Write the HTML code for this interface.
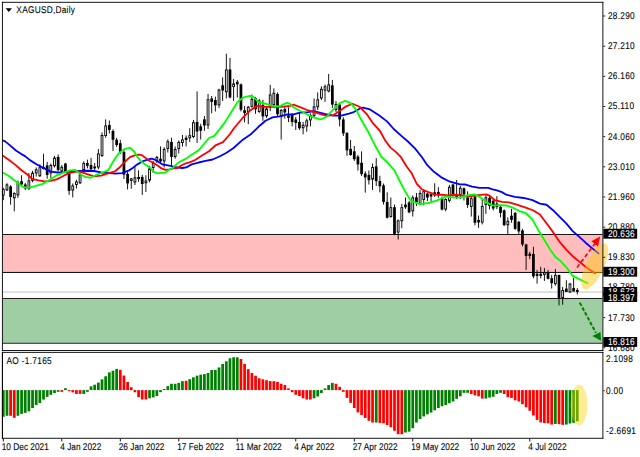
<!DOCTYPE html><html><head><meta charset="utf-8"><style>html,body{margin:0;padding:0;background:#fff;overflow:hidden}svg{display:block}text{font-family:"Liberation Sans",sans-serif;text-rendering:geometricPrecision}</style></head><body>
<svg width="640" height="457" viewBox="0 0 700 500">
<rect x="0" y="0" width="700" height="500" fill="#fff"/>
<rect x="3" y="257" width="656" height="40.5" fill="#FFBDBD"/>
<rect x="3" y="327" width="656" height="48" fill="#9ECEA2"/>
<rect x="3" y="256" width="656" height="1" fill="#000"/>
<rect x="3" y="326" width="656" height="1" fill="#000"/>
<rect x="3" y="375" width="656" height="1" fill="#000"/>
<rect x="3" y="297.50" width="656" height="1.094" fill="#000"/>
<rect x="3" y="319" width="656" height="1" fill="#BDBDBD"/>
<rect x="3" y="205.4" width="1" height="13.6" fill="#000"/>
<rect x="2.5" y="207.2" width="2" height="6.2" fill="#fff" stroke="#000" stroke-width="1"/>
<rect x="7" y="200.4" width="1" height="8.5" fill="#000"/>
<rect x="6.5" y="202.3" width="2" height="5.5" fill="#fff" stroke="#000" stroke-width="1"/>
<rect x="11" y="202.6" width="1" height="21.4" fill="#000"/>
<rect x="10" y="204.0" width="3" height="11.5" fill="#000"/>
<rect x="15" y="210.4" width="1" height="20.8" fill="#000"/>
<rect x="14.5" y="211.6" width="2" height="4.8" fill="#fff" stroke="#000" stroke-width="1"/>
<rect x="19" y="197.4" width="1" height="19.1" fill="#000"/>
<rect x="18.5" y="199.9" width="2" height="13.4" fill="#fff" stroke="#000" stroke-width="1"/>
<rect x="23" y="191.7" width="1" height="10.8" fill="#000"/>
<rect x="22" y="198.2" width="3" height="3.6" fill="#000"/>
<rect x="27" y="200.2" width="1" height="7.7" fill="#000"/>
<rect x="26" y="201.8" width="3" height="4.3" fill="#000"/>
<rect x="31" y="189.2" width="1" height="18.6" fill="#000"/>
<rect x="30.5" y="197.9" width="2" height="8.3" fill="#fff" stroke="#000" stroke-width="1"/>
<rect x="35" y="186.9" width="1" height="12.5" fill="#000"/>
<rect x="34.5" y="189.4" width="2" height="8.1" fill="#fff" stroke="#000" stroke-width="1"/>
<rect x="39" y="183.2" width="1" height="10.0" fill="#000"/>
<rect x="38.5" y="185.8" width="2" height="3.4" fill="#fff" stroke="#000" stroke-width="1"/>
<rect x="43" y="179.7" width="1" height="13.9" fill="#000"/>
<rect x="42.5" y="183.5" width="2" height="8.8" fill="#fff" stroke="#000" stroke-width="1"/>
<rect x="47" y="168.2" width="1" height="17.2" fill="#000"/>
<rect x="46" y="182.7" width="3" height="2.2" fill="#000"/>
<rect x="51" y="177.1" width="1" height="18.4" fill="#000"/>
<rect x="50" y="181.0" width="3" height="10.4" fill="#000"/>
<rect x="55" y="178.9" width="1" height="15.8" fill="#000"/>
<rect x="54.5" y="181.0" width="2" height="8.2" fill="#fff" stroke="#000" stroke-width="1"/>
<rect x="59" y="170.6" width="1" height="12.6" fill="#000"/>
<rect x="58.5" y="173.0" width="2" height="8.3" fill="#fff" stroke="#000" stroke-width="1"/>
<rect x="63" y="168.9" width="1" height="18.7" fill="#000"/>
<rect x="62" y="171.7" width="3" height="14.4" fill="#000"/>
<rect x="67" y="180.5" width="1" height="8.5" fill="#000"/>
<rect x="66.5" y="183.0" width="2" height="4.0" fill="#fff" stroke="#000" stroke-width="1"/>
<rect x="71" y="178.3" width="1" height="10.9" fill="#000"/>
<rect x="70" y="178.9" width="3" height="9.3" fill="#000"/>
<rect x="75" y="189.0" width="1" height="24.3" fill="#000"/>
<rect x="74" y="190.3" width="3" height="18.6" fill="#000"/>
<rect x="79" y="200.7" width="1" height="15.3" fill="#000"/>
<rect x="78.5" y="203.4" width="2" height="4.5" fill="#fff" stroke="#000" stroke-width="1"/>
<rect x="83" y="196.7" width="1" height="9.5" fill="#000"/>
<rect x="82.5" y="199.0" width="2" height="2.8" fill="#fff" stroke="#000" stroke-width="1"/>
<rect x="87" y="188.0" width="1" height="13.3" fill="#000"/>
<rect x="86.5" y="191.4" width="2" height="8.6" fill="#fff" stroke="#000" stroke-width="1"/>
<rect x="91" y="176.5" width="1" height="11.5" fill="#000"/>
<rect x="90.5" y="178.8" width="2" height="6.7" fill="#fff" stroke="#000" stroke-width="1"/>
<rect x="95" y="174.6" width="1" height="9.6" fill="#000"/>
<rect x="94" y="178.3" width="3" height="3.1" fill="#000"/>
<rect x="99" y="172.7" width="1" height="14.3" fill="#000"/>
<rect x="98" y="180.5" width="3" height="4.7" fill="#000"/>
<rect x="103" y="178.3" width="1" height="7.7" fill="#000"/>
<rect x="102" y="182.2" width="3" height="2.0" fill="#000"/>
<rect x="107" y="163.0" width="1" height="22.2" fill="#000"/>
<rect x="106.5" y="168.4" width="2" height="14.3" fill="#fff" stroke="#000" stroke-width="1"/>
<rect x="111" y="144.9" width="1" height="26.8" fill="#000"/>
<rect x="110.5" y="148.2" width="2" height="22.0" fill="#fff" stroke="#000" stroke-width="1"/>
<rect x="115" y="130.6" width="1" height="20.1" fill="#000"/>
<rect x="114.5" y="137.8" width="2" height="10.5" fill="#fff" stroke="#000" stroke-width="1"/>
<rect x="119" y="131.8" width="1" height="14.3" fill="#000"/>
<rect x="118" y="136.7" width="3" height="5.5" fill="#000"/>
<rect x="123" y="141.4" width="1" height="23.7" fill="#000"/>
<rect x="122" y="143.3" width="3" height="9.6" fill="#000"/>
<rect x="127" y="150.9" width="1" height="9.8" fill="#000"/>
<rect x="126" y="152.9" width="3" height="5.7" fill="#000"/>
<rect x="131" y="152.9" width="1" height="15.3" fill="#000"/>
<rect x="130" y="156.7" width="3" height="9.5" fill="#000"/>
<rect x="135" y="164.4" width="1" height="31.4" fill="#000"/>
<rect x="134" y="166.2" width="3" height="24.9" fill="#000"/>
<rect x="139" y="188.1" width="1" height="19.2" fill="#000"/>
<rect x="138" y="190.3" width="3" height="10.4" fill="#000"/>
<rect x="143" y="194.7" width="1" height="11.8" fill="#000"/>
<rect x="142.5" y="195.7" width="2" height="1.7" fill="#fff" stroke="#000" stroke-width="1"/>
<rect x="147" y="181.6" width="1" height="20.8" fill="#000"/>
<rect x="146.5" y="194.5" width="2" height="4.7" fill="#fff" stroke="#000" stroke-width="1"/>
<rect x="151" y="186.4" width="1" height="12.5" fill="#000"/>
<rect x="150" y="193.6" width="3" height="2.2" fill="#000"/>
<rect x="155" y="191.2" width="1" height="22.1" fill="#000"/>
<rect x="154" y="193.6" width="3" height="7.7" fill="#000"/>
<rect x="159" y="191.8" width="1" height="18.2" fill="#000"/>
<rect x="158.5" y="198.0" width="2" height="2.0" fill="#fff" stroke="#000" stroke-width="1"/>
<rect x="163" y="181.3" width="1" height="18.2" fill="#000"/>
<rect x="162.5" y="184.7" width="2" height="12.3" fill="#fff" stroke="#000" stroke-width="1"/>
<rect x="167" y="176.1" width="1" height="13.1" fill="#000"/>
<rect x="166.5" y="178.8" width="2" height="4.5" fill="#fff" stroke="#000" stroke-width="1"/>
<rect x="171" y="170.6" width="1" height="7.7" fill="#000"/>
<rect x="170.5" y="172.2" width="2" height="3.8" fill="#fff" stroke="#000" stroke-width="1"/>
<rect x="175" y="160.2" width="1" height="18.0" fill="#000"/>
<rect x="174" y="173.7" width="3" height="2.8" fill="#000"/>
<rect x="179" y="161.2" width="1" height="22.0" fill="#000"/>
<rect x="178.5" y="163.5" width="2" height="12.6" fill="#fff" stroke="#000" stroke-width="1"/>
<rect x="183" y="152.6" width="1" height="14.3" fill="#000"/>
<rect x="182.5" y="155.0" width="2" height="7.4" fill="#fff" stroke="#000" stroke-width="1"/>
<rect x="187" y="150.7" width="1" height="30.6" fill="#000"/>
<rect x="186" y="155.3" width="3" height="16.4" fill="#000"/>
<rect x="191" y="160.2" width="1" height="13.5" fill="#000"/>
<rect x="190.5" y="163.5" width="2" height="7.8" fill="#fff" stroke="#000" stroke-width="1"/>
<rect x="195" y="153.6" width="1" height="14.3" fill="#000"/>
<rect x="194.5" y="155.8" width="2" height="6.7" fill="#fff" stroke="#000" stroke-width="1"/>
<rect x="199" y="147.7" width="1" height="12.6" fill="#000"/>
<rect x="198.5" y="153.1" width="2" height="2.8" fill="#fff" stroke="#000" stroke-width="1"/>
<rect x="203" y="148.2" width="1" height="12.0" fill="#000"/>
<rect x="202" y="150.7" width="3" height="2.4" fill="#000"/>
<rect x="207" y="140.3" width="1" height="15.0" fill="#000"/>
<rect x="206.5" y="148.4" width="2" height="2.4" fill="#fff" stroke="#000" stroke-width="1"/>
<rect x="211" y="131.2" width="1" height="20.0" fill="#000"/>
<rect x="210.5" y="134.2" width="2" height="15.2" fill="#fff" stroke="#000" stroke-width="1"/>
<rect x="215" y="100.0" width="1" height="56.4" fill="#000"/>
<rect x="214" y="133.4" width="3" height="10.5" fill="#000"/>
<rect x="219" y="135.4" width="1" height="17.2" fill="#000"/>
<rect x="218" y="138.2" width="3" height="4.8" fill="#000"/>
<rect x="223" y="126.9" width="1" height="16.2" fill="#000"/>
<rect x="222" y="130.6" width="3" height="6.7" fill="#000"/>
<rect x="227" y="102.8" width="1" height="38.3" fill="#000"/>
<rect x="226.5" y="109.1" width="2" height="27.7" fill="#fff" stroke="#000" stroke-width="1"/>
<rect x="231" y="105.0" width="1" height="18.9" fill="#000"/>
<rect x="230" y="107.7" width="3" height="3.8" fill="#000"/>
<rect x="235" y="105.7" width="1" height="16.3" fill="#000"/>
<rect x="234" y="109.4" width="3" height="5.9" fill="#000"/>
<rect x="239" y="97.1" width="1" height="21.0" fill="#000"/>
<rect x="238.5" y="98.5" width="2" height="16.3" fill="#fff" stroke="#000" stroke-width="1"/>
<rect x="243" y="84.7" width="1" height="25.8" fill="#000"/>
<rect x="242" y="93.3" width="3" height="5.7" fill="#000"/>
<rect x="247" y="58.8" width="1" height="48.8" fill="#000"/>
<rect x="246.5" y="76.5" width="2" height="23.9" fill="#fff" stroke="#000" stroke-width="1"/>
<rect x="251" y="63.4" width="1" height="44.2" fill="#000"/>
<rect x="250" y="76.0" width="3" height="30.6" fill="#000"/>
<rect x="255" y="86.4" width="1" height="24.1" fill="#000"/>
<rect x="254.5" y="91.8" width="2" height="2.8" fill="#fff" stroke="#000" stroke-width="1"/>
<rect x="259" y="87.5" width="1" height="19.1" fill="#000"/>
<rect x="258" y="89.5" width="3" height="2.8" fill="#000"/>
<rect x="263" y="91.3" width="1" height="30.6" fill="#000"/>
<rect x="262" y="92.3" width="3" height="27.8" fill="#000"/>
<rect x="267" y="115.9" width="1" height="18.0" fill="#000"/>
<rect x="266" y="120.6" width="3" height="3.0" fill="#000"/>
<rect x="271" y="115.9" width="1" height="20.0" fill="#000"/>
<rect x="270.5" y="117.3" width="2" height="4.7" fill="#fff" stroke="#000" stroke-width="1"/>
<rect x="275" y="103.4" width="1" height="14.3" fill="#000"/>
<rect x="274.5" y="108.7" width="2" height="7.6" fill="#fff" stroke="#000" stroke-width="1"/>
<rect x="279" y="106.1" width="1" height="18.4" fill="#000"/>
<rect x="278" y="107.2" width="3" height="12.5" fill="#000"/>
<rect x="283" y="108.2" width="1" height="15.3" fill="#000"/>
<rect x="282.5" y="110.5" width="2" height="11.5" fill="#fff" stroke="#000" stroke-width="1"/>
<rect x="287" y="109.2" width="1" height="23.0" fill="#000"/>
<rect x="286" y="114.8" width="3" height="12.5" fill="#000"/>
<rect x="291" y="117.0" width="1" height="12.0" fill="#000"/>
<rect x="290.5" y="119.2" width="2" height="7.6" fill="#fff" stroke="#000" stroke-width="1"/>
<rect x="295" y="92.9" width="1" height="28.7" fill="#000"/>
<rect x="294.5" y="103.9" width="2" height="13.3" fill="#fff" stroke="#000" stroke-width="1"/>
<rect x="299" y="96.7" width="1" height="21.0" fill="#000"/>
<rect x="298.5" y="102.0" width="2" height="12.3" fill="#fff" stroke="#000" stroke-width="1"/>
<rect x="303" y="101.1" width="1" height="25.8" fill="#000"/>
<rect x="302" y="102.8" width="3" height="22.2" fill="#000"/>
<rect x="307" y="119.2" width="1" height="33.5" fill="#000"/>
<rect x="306.5" y="120.8" width="2" height="6.7" fill="#fff" stroke="#000" stroke-width="1"/>
<rect x="311" y="117.4" width="1" height="12.4" fill="#000"/>
<rect x="310" y="119.2" width="3" height="3.8" fill="#000"/>
<rect x="315" y="117.4" width="1" height="16.1" fill="#000"/>
<rect x="314" y="126.3" width="3" height="2.7" fill="#000"/>
<rect x="319" y="124.0" width="1" height="14.3" fill="#000"/>
<rect x="318" y="125.8" width="3" height="7.7" fill="#000"/>
<rect x="323" y="128.0" width="1" height="14.2" fill="#000"/>
<rect x="322" y="130.7" width="3" height="3.8" fill="#000"/>
<rect x="327" y="123.0" width="1" height="19.1" fill="#000"/>
<rect x="326" y="133.4" width="3" height="6.9" fill="#000"/>
<rect x="331" y="133.4" width="1" height="13.6" fill="#000"/>
<rect x="330.5" y="137.0" width="2" height="2.8" fill="#fff" stroke="#000" stroke-width="1"/>
<rect x="335" y="129.7" width="1" height="14.4" fill="#000"/>
<rect x="334.5" y="132.2" width="2" height="5.7" fill="#fff" stroke="#000" stroke-width="1"/>
<rect x="339" y="124.0" width="1" height="14.3" fill="#000"/>
<rect x="338.5" y="126.3" width="2" height="4.9" fill="#fff" stroke="#000" stroke-width="1"/>
<rect x="343" y="107.7" width="1" height="21.1" fill="#000"/>
<rect x="342.5" y="116.9" width="2" height="9.5" fill="#fff" stroke="#000" stroke-width="1"/>
<rect x="347" y="101.1" width="1" height="19.2" fill="#000"/>
<rect x="346.5" y="109.2" width="2" height="7.6" fill="#fff" stroke="#000" stroke-width="1"/>
<rect x="351" y="94.4" width="1" height="15.0" fill="#000"/>
<rect x="350.5" y="97.7" width="2" height="9.5" fill="#fff" stroke="#000" stroke-width="1"/>
<rect x="355" y="92.4" width="1" height="19.1" fill="#000"/>
<rect x="354.5" y="94.9" width="2" height="3.7" fill="#fff" stroke="#000" stroke-width="1"/>
<rect x="359" y="80.9" width="1" height="20.1" fill="#000"/>
<rect x="358.5" y="92.9" width="2" height="6.7" fill="#fff" stroke="#000" stroke-width="1"/>
<rect x="363" y="87.5" width="1" height="30.6" fill="#000"/>
<rect x="362" y="93.4" width="3" height="21.0" fill="#000"/>
<rect x="367" y="110.5" width="1" height="12.0" fill="#000"/>
<rect x="366.5" y="114.2" width="2" height="5.6" fill="#fff" stroke="#000" stroke-width="1"/>
<rect x="371" y="113.5" width="1" height="24.8" fill="#000"/>
<rect x="370" y="114.4" width="3" height="16.3" fill="#000"/>
<rect x="375" y="128.3" width="1" height="20.5" fill="#000"/>
<rect x="374" y="130.7" width="3" height="15.3" fill="#000"/>
<rect x="379" y="144.4" width="1" height="26.0" fill="#000"/>
<rect x="378" y="145.5" width="3" height="19.1" fill="#000"/>
<rect x="383" y="153.1" width="1" height="17.3" fill="#000"/>
<rect x="382" y="162.8" width="3" height="6.8" fill="#000"/>
<rect x="387" y="159.7" width="1" height="16.4" fill="#000"/>
<rect x="386" y="165.6" width="3" height="8.6" fill="#000"/>
<rect x="391" y="169.5" width="1" height="17.1" fill="#000"/>
<rect x="390" y="171.3" width="3" height="8.6" fill="#000"/>
<rect x="395" y="165.6" width="1" height="26.9" fill="#000"/>
<rect x="394" y="178.1" width="3" height="12.4" fill="#000"/>
<rect x="399" y="187.5" width="1" height="23.3" fill="#000"/>
<rect x="398" y="189.8" width="3" height="4.3" fill="#000"/>
<rect x="403" y="186.6" width="1" height="15.3" fill="#000"/>
<rect x="402" y="191.4" width="3" height="5.8" fill="#000"/>
<rect x="407" y="179.0" width="1" height="28.8" fill="#000"/>
<rect x="406.5" y="183.2" width="2" height="12.8" fill="#fff" stroke="#000" stroke-width="1"/>
<rect x="411" y="173.0" width="1" height="30.5" fill="#000"/>
<rect x="410" y="182.0" width="3" height="16.2" fill="#000"/>
<rect x="415" y="192.3" width="1" height="18.2" fill="#000"/>
<rect x="414" y="198.0" width="3" height="5.8" fill="#000"/>
<rect x="419" y="200.8" width="1" height="23.0" fill="#000"/>
<rect x="418" y="202.8" width="3" height="18.2" fill="#000"/>
<rect x="423" y="210.4" width="1" height="28.7" fill="#000"/>
<rect x="422" y="220.9" width="3" height="17.3" fill="#000"/>
<rect x="427" y="216.1" width="1" height="22.1" fill="#000"/>
<rect x="426.5" y="227.2" width="2" height="9.6" fill="#fff" stroke="#000" stroke-width="1"/>
<rect x="431" y="223.8" width="1" height="33.6" fill="#000"/>
<rect x="430" y="226.7" width="3" height="29.6" fill="#000"/>
<rect x="435" y="240.1" width="1" height="22.0" fill="#000"/>
<rect x="434.5" y="241.6" width="2" height="12.3" fill="#fff" stroke="#000" stroke-width="1"/>
<rect x="439" y="222.9" width="1" height="26.8" fill="#000"/>
<rect x="438.5" y="227.2" width="2" height="14.3" fill="#fff" stroke="#000" stroke-width="1"/>
<rect x="443" y="216.1" width="1" height="12.5" fill="#000"/>
<rect x="442" y="223.8" width="3" height="3.0" fill="#000"/>
<rect x="447" y="219.8" width="1" height="13.6" fill="#000"/>
<rect x="446" y="221.5" width="3" height="10.8" fill="#000"/>
<rect x="451" y="213.9" width="1" height="23.0" fill="#000"/>
<rect x="450.5" y="216.4" width="2" height="14.3" fill="#fff" stroke="#000" stroke-width="1"/>
<rect x="455" y="211.1" width="1" height="14.2" fill="#000"/>
<rect x="454" y="215.9" width="3" height="5.7" fill="#000"/>
<rect x="459" y="208.2" width="1" height="16.3" fill="#000"/>
<rect x="458.5" y="211.6" width="2" height="11.5" fill="#fff" stroke="#000" stroke-width="1"/>
<rect x="463" y="207.3" width="1" height="17.3" fill="#000"/>
<rect x="462.5" y="209.7" width="2" height="8.5" fill="#fff" stroke="#000" stroke-width="1"/>
<rect x="467" y="211.1" width="1" height="8.8" fill="#000"/>
<rect x="466" y="211.8" width="3" height="4.3" fill="#000"/>
<rect x="471" y="211.1" width="1" height="8.8" fill="#000"/>
<rect x="470" y="212.6" width="3" height="2.3" fill="#000"/>
<rect x="475" y="200.5" width="1" height="15.0" fill="#000"/>
<rect x="474" y="210.3" width="3" height="3.5" fill="#000"/>
<rect x="479" y="204.8" width="1" height="11.5" fill="#000"/>
<rect x="478" y="210.0" width="3" height="3.8" fill="#000"/>
<rect x="483" y="214.9" width="1" height="15.3" fill="#000"/>
<rect x="482" y="216.6" width="3" height="12.7" fill="#000"/>
<rect x="487" y="216.9" width="1" height="14.3" fill="#000"/>
<rect x="486.5" y="218.2" width="2" height="10.6" fill="#fff" stroke="#000" stroke-width="1"/>
<rect x="491" y="202.3" width="1" height="19.2" fill="#000"/>
<rect x="490.5" y="204.9" width="2" height="14.3" fill="#fff" stroke="#000" stroke-width="1"/>
<rect x="495" y="201.0" width="1" height="14.4" fill="#000"/>
<rect x="494" y="201.9" width="3" height="11.0" fill="#000"/>
<rect x="499" y="196.9" width="1" height="20.8" fill="#000"/>
<rect x="498" y="213.9" width="3" height="2.0" fill="#000"/>
<rect x="503" y="203.4" width="1" height="14.3" fill="#000"/>
<rect x="502.5" y="205.9" width="2" height="6.7" fill="#fff" stroke="#000" stroke-width="1"/>
<rect x="507" y="205.1" width="1" height="14.3" fill="#000"/>
<rect x="506" y="206.0" width="3" height="6.7" fill="#000"/>
<rect x="511" y="209.3" width="1" height="18.2" fill="#000"/>
<rect x="510" y="216.0" width="3" height="8.2" fill="#000"/>
<rect x="515" y="214.9" width="1" height="22.0" fill="#000"/>
<rect x="514.5" y="217.4" width="2" height="8.5" fill="#fff" stroke="#000" stroke-width="1"/>
<rect x="519" y="213.9" width="1" height="32.6" fill="#000"/>
<rect x="518" y="214.9" width="3" height="28.8" fill="#000"/>
<rect x="523" y="235.8" width="1" height="13.5" fill="#000"/>
<rect x="522.5" y="241.1" width="2" height="1.8" fill="#fff" stroke="#000" stroke-width="1"/>
<rect x="527" y="217.7" width="1" height="27.8" fill="#000"/>
<rect x="526.5" y="225.8" width="2" height="17.2" fill="#fff" stroke="#000" stroke-width="1"/>
<rect x="531" y="213.8" width="1" height="20.2" fill="#000"/>
<rect x="530.5" y="216.3" width="2" height="7.4" fill="#fff" stroke="#000" stroke-width="1"/>
<rect x="535" y="214.8" width="1" height="14.3" fill="#000"/>
<rect x="534" y="216.6" width="3" height="8.8" fill="#000"/>
<rect x="539" y="217.7" width="1" height="12.5" fill="#000"/>
<rect x="538" y="219.6" width="3" height="8.5" fill="#000"/>
<rect x="543" y="214.6" width="1" height="14.3" fill="#000"/>
<rect x="542" y="222.7" width="3" height="3.7" fill="#000"/>
<rect x="547" y="224.2" width="1" height="13.6" fill="#000"/>
<rect x="546" y="226.3" width="3" height="6.7" fill="#000"/>
<rect x="551" y="229.1" width="1" height="18.2" fill="#000"/>
<rect x="550" y="230.1" width="3" height="16.3" fill="#000"/>
<rect x="555" y="237.8" width="1" height="19.2" fill="#000"/>
<rect x="554.5" y="242.1" width="2" height="3.8" fill="#fff" stroke="#000" stroke-width="1"/>
<rect x="559" y="228.4" width="1" height="15.3" fill="#000"/>
<rect x="558" y="236.0" width="3" height="4.6" fill="#000"/>
<rect x="563" y="231.9" width="1" height="19.7" fill="#000"/>
<rect x="562" y="233.0" width="3" height="17.4" fill="#000"/>
<rect x="567" y="241.7" width="1" height="14.2" fill="#000"/>
<rect x="566" y="242.7" width="3" height="10.5" fill="#000"/>
<rect x="571" y="250.4" width="1" height="19.1" fill="#000"/>
<rect x="570" y="252.2" width="3" height="15.3" fill="#000"/>
<rect x="575" y="266.7" width="1" height="28.7" fill="#000"/>
<rect x="574" y="267.5" width="3" height="12.5" fill="#000"/>
<rect x="579" y="275.4" width="1" height="8.1" fill="#000"/>
<rect x="578" y="277.6" width="3" height="2.4" fill="#000"/>
<rect x="583" y="270.0" width="1" height="34.5" fill="#000"/>
<rect x="582" y="277.8" width="3" height="24.6" fill="#000"/>
<rect x="587" y="295.2" width="1" height="15.1" fill="#000"/>
<rect x="586" y="299.5" width="3" height="2.4" fill="#000"/>
<rect x="591" y="291.9" width="1" height="12.6" fill="#000"/>
<rect x="590" y="299.5" width="3" height="2.4" fill="#000"/>
<rect x="595" y="293.1" width="1" height="14.2" fill="#000"/>
<rect x="594.5" y="298.4" width="2" height="1.8" fill="#fff" stroke="#000" stroke-width="1"/>
<rect x="599" y="295.3" width="1" height="10.4" fill="#000"/>
<rect x="598" y="298.5" width="3" height="6.5" fill="#000"/>
<rect x="603" y="300.7" width="1" height="15.0" fill="#000"/>
<rect x="602" y="304.4" width="3" height="5.4" fill="#000"/>
<rect x="607" y="294.2" width="1" height="18.3" fill="#000"/>
<rect x="606.5" y="301.2" width="2" height="9.2" fill="#fff" stroke="#000" stroke-width="1"/>
<rect x="611" y="300.7" width="1" height="33.4" fill="#000"/>
<rect x="610" y="300.7" width="3" height="25.3" fill="#000"/>
<rect x="615" y="313.9" width="1" height="19.6" fill="#000"/>
<rect x="614.5" y="317.7" width="2" height="7.8" fill="#fff" stroke="#000" stroke-width="1"/>
<rect x="619" y="306.6" width="1" height="12.8" fill="#000"/>
<rect x="618" y="315.7" width="3" height="3.7" fill="#000"/>
<rect x="623" y="309.5" width="1" height="10.9" fill="#000"/>
<rect x="622.5" y="310.8" width="2" height="8.7" fill="#fff" stroke="#000" stroke-width="1"/>
<rect x="627" y="303.8" width="1" height="15.1" fill="#000"/>
<rect x="626" y="315.2" width="3" height="3.7" fill="#000"/>
<rect x="631" y="315.2" width="1" height="7.0" fill="#000"/>
<rect x="630" y="317.2" width="3" height="2.2" fill="#000"/>
<polyline points="2.8,153.7 5.5,154.7 9.6,158.0 17.3,164.7 24.9,169.5 27.3,170.8 32.6,175.2 40.2,180.0 47.9,183.9 55.6,187.7 63.2,188.7 70.9,188.3 78.5,187.7 87.5,187.1 95.2,186.8 102.8,187.1 110.5,188.7 118.1,189.2 125.8,190.0 133.4,189.4 141.1,186.4 145.5,183.5 148.6,180.9 153.0,178.2 157.3,175.9 161.5,174.6 165.9,173.5 169.1,174.6 173.5,177.3 177.7,180.0 182.1,180.6 186.4,181.6 190.6,182.7 195.0,183.4 199.3,183.8 203.7,183.2 209.5,179.8 217.1,177.8 224.8,176.0 232.4,174.5 240.1,171.2 247.7,167.1 255.4,161.9 265.6,152.8 275.1,146.3 282.7,138.7 290.4,132.1 298.0,128.4 305.7,127.4 313.4,125.3 321.0,125.1 328.1,123.3 329.5,123.2 337.2,122.6 342.9,121.5 347.6,122.8 356.1,124.9 364.7,126.5 373.3,126.5 381.7,124.2 387.0,122.6 393.8,118.7 397.0,117.8 404.7,119.7 414.5,126.1 423.3,132.8 430.9,141.4 440.6,150.0 446.2,154.8 453.9,162.4 461.6,172.0 467.4,180.7 475.0,188.3 482.7,194.0 492.2,198.8 503.1,201.7 509.3,201.9 516.5,204.2 524.5,205.6 534.0,205.6 538.8,207.2 543.6,208.4 549.1,210.2 553.8,213.0 563.3,215.4 572.9,216.6 582.4,219.0 590.6,222.7 597.8,224.0 605.0,230.0 612.2,237.2 619.4,244.3 626.5,252.8 633.7,259.2 640.9,265.8 648.0,271.8 655.3,277.8" fill="none" stroke="#0000FF" stroke-width="2" stroke-linejoin="round"/>
<polyline points="2.8,170.1 10.1,175.3 16.7,180.4 23.4,186.3 30.2,191.2 35.1,195.8 41.9,197.4 48.6,198.4 55.2,197.9 61.9,196.2 67.0,193.7 74.7,189.7 82.4,187.7 87.5,187.7 95.2,190.6 102.8,192.9 110.5,192.2 118.1,189.7 125.8,187.4 131.6,182.4 137.3,176.2 142.2,171.9 146.5,170.3 150.8,169.2 155.1,169.8 159.5,173.0 163.7,176.2 168.0,178.4 172.4,181.0 176.6,184.3 181.0,185.9 185.3,185.4 189.5,184.3 193.9,183.8 198.2,181.1 202.6,178.9 207.8,177.3 213.3,175.1 220.9,170.2 228.6,165.5 236.2,158.7 243.9,155.6 251.6,146.6 255.9,140.3 265.6,128.8 273.2,121.2 280.9,115.8 288.5,116.9 298.0,116.9 307.7,116.9 317.2,115.8 321.0,114.4 328.1,117.2 335.2,120.1 342.9,122.4 350.0,124.7 357.2,126.7 364.3,126.0 371.5,121.5 377.9,116.7 385.5,113.5 393.2,116.8 400.9,124.5 408.5,135.6 415.6,143.3 421.4,153.8 427.1,161.5 432.9,166.2 438.6,172.0 444.4,181.6 450.1,189.2 455.9,201.2 461.6,207.3 468.6,210.2 475.8,212.6 483.0,213.1 490.1,213.8 497.3,213.1 504.5,213.8 511.7,215.1 518.9,213.9 520.4,213.7 531.9,212.7 535.9,214.4 541.4,219.1 549.1,220.8 556.7,221.4 564.4,223.6 575.9,227.4 583.5,230.3 590.6,234.7 597.8,244.3 605.0,254.0 612.2,264.7 619.4,273.1 626.5,280.3 633.7,286.2 640.9,292.2 648.0,297.1 651.7,299.5" fill="none" stroke="#FF0000" stroke-width="2" stroke-linejoin="round"/>
<polyline points="2.8,188.7 9.6,192.5 17.3,198.5 24.9,204.5 30.6,205.6 38.3,203.7 45.9,201.4 53.6,197.1 61.2,192.2 68.9,189.2 76.6,186.5 82.4,185.8 87.5,190.6 93.3,193.5 99.0,194.5 104.8,191.5 110.5,189.3 118.1,186.5 123.9,176.4 129.6,167.9 135.4,163.4 142.1,161.5 146.5,165.5 150.8,172.5 155.1,177.3 159.5,180.6 163.7,183.2 168.0,188.1 172.4,189.7 176.6,189.1 181.0,188.7 185.3,185.4 189.5,183.2 193.9,178.9 198.2,176.2 202.6,174.1 209.5,169.3 217.1,164.5 222.9,157.8 228.6,151.0 234.4,148.6 240.1,141.5 245.9,133.9 250.3,126.9 259.8,111.6 265.6,106.9 273.2,104.9 277.0,105.9 282.7,111.6 290.4,113.5 298.0,115.8 305.7,116.4 313.4,112.5 317.2,113.5 321.0,117.4 328.1,121.2 335.2,124.7 342.9,128.5 350.0,130.5 353.5,129.7 357.2,127.8 364.3,120.0 371.5,112.8 377.6,110.4 383.5,112.8 389.5,120.0 395.5,131.9 402.6,143.9 409.8,158.3 417.0,171.2 424.2,178.3 431.4,186.5 437.5,198.6 442.3,207.8 449.4,219.8 459.0,223.3 468.6,222.1 478.2,219.3 487.8,215.0 497.3,216.2 504.5,216.3 511.7,213.6 518.9,212.7 525.0,215.5 532.2,221.4 539.3,224.9 546.5,224.4 553.8,224.8 560.9,227.2 568.1,230.9 575.3,233.3 582.4,240.1 588.4,251.0 594.5,260.9 601.6,272.8 607.6,281.2 612.5,285.0 619.4,292.2 626.5,301.9 633.7,305.4 643.2,310.2" fill="none" stroke="#00FF00" stroke-width="2" stroke-linejoin="round"/>
<line x1="651.3" y1="265.8" x2="629.3" y2="295.3" stroke="#FF0000" stroke-width="1.8" stroke-dasharray="4.5,2.8"/>
<polygon points="656.5,258.8 647.0,263.9 654.2,269.6" fill="#FF0000"/>
<line x1="634.2" y1="331.1" x2="651.9" y2="364.2" stroke="#008000" stroke-width="2.2" stroke-dasharray="4,2"/>
<polygon points="657.5,372.9 647.9,367.5 656.9,363.3" fill="#008000"/>
<ellipse cx="650.7" cy="291.3" rx="9.8" ry="27.6" transform="rotate(25 650.7 291.3)" fill="rgba(251,197,10,0.47)"/>
<rect x="2" y="2" width="658" height="1" fill="#000"/>
<rect x="2" y="383" width="658" height="1" fill="#000"/>
<rect x="2" y="2" width="1" height="382" fill="#000"/>
<rect x="659" y="2" width="1" height="382" fill="#000"/>
<polygon points="6,9 13,9 9.5,13" fill="#000"/>
<g transform="translate(17.80,14.40) scale(0.845,1)"><text x="0" y="0" font-size="10.75" fill="#000" stroke="#000" stroke-width="0.1" letter-spacing="0.32">XAGUSD,Daily</text></g>
<rect x="660" y="17" width="2" height="1" fill="#000"/>
<g transform="translate(665.00,20.80) scale(0.845,1)"><text x="0" y="0" font-size="10.75" fill="#000" stroke="#000" stroke-width="0.1" letter-spacing="0.36">28.290</text></g>
<rect x="660" y="50" width="2" height="1" fill="#000"/>
<g transform="translate(665.00,53.80) scale(0.845,1)"><text x="0" y="0" font-size="10.75" fill="#000" stroke="#000" stroke-width="0.1" letter-spacing="0.36">27.210</text></g>
<rect x="660" y="83" width="2" height="1" fill="#000"/>
<g transform="translate(665.00,86.80) scale(0.845,1)"><text x="0" y="0" font-size="10.75" fill="#000" stroke="#000" stroke-width="0.1" letter-spacing="0.36">26.160</text></g>
<rect x="660" y="116" width="2" height="1" fill="#000"/>
<g transform="translate(665.00,119.80) scale(0.845,1)"><text x="0" y="0" font-size="10.75" fill="#000" stroke="#000" stroke-width="0.1" letter-spacing="0.36">25.110</text></g>
<rect x="660" y="149" width="2" height="1" fill="#000"/>
<g transform="translate(665.00,152.80) scale(0.845,1)"><text x="0" y="0" font-size="10.75" fill="#000" stroke="#000" stroke-width="0.1" letter-spacing="0.36">24.060</text></g>
<rect x="660" y="182" width="2" height="1" fill="#000"/>
<g transform="translate(665.00,185.80) scale(0.845,1)"><text x="0" y="0" font-size="10.75" fill="#000" stroke="#000" stroke-width="0.1" letter-spacing="0.36">23.010</text></g>
<rect x="660" y="215" width="2" height="1" fill="#000"/>
<g transform="translate(665.00,218.80) scale(0.845,1)"><text x="0" y="0" font-size="10.75" fill="#000" stroke="#000" stroke-width="0.1" letter-spacing="0.36">21.960</text></g>
<rect x="660" y="248" width="2" height="1" fill="#000"/>
<g transform="translate(665.00,251.80) scale(0.845,1)"><text x="0" y="0" font-size="10.75" fill="#000" stroke="#000" stroke-width="0.1" letter-spacing="0.36">20.880</text></g>
<rect x="660" y="281" width="2" height="1" fill="#000"/>
<g transform="translate(665.00,284.80) scale(0.845,1)"><text x="0" y="0" font-size="10.75" fill="#000" stroke="#000" stroke-width="0.1" letter-spacing="0.36">19.830</text></g>
<rect x="660" y="314" width="2" height="1" fill="#000"/>
<g transform="translate(665.00,317.80) scale(0.845,1)"><text x="0" y="0" font-size="10.75" fill="#000" stroke="#000" stroke-width="0.1" letter-spacing="0.36">18.780</text></g>
<rect x="660" y="347" width="2" height="1" fill="#000"/>
<g transform="translate(665.00,350.80) scale(0.845,1)"><text x="0" y="0" font-size="10.75" fill="#000" stroke="#000" stroke-width="0.1" letter-spacing="0.36">17.730</text></g>
<rect x="660" y="380" width="2" height="1" fill="#000"/>
<g transform="translate(665.00,383.80) scale(0.845,1)"><text x="0" y="0" font-size="10.75" fill="#000" stroke="#000" stroke-width="0.1" letter-spacing="0.36">16.680</text></g>
<rect x="660" y="314.0" width="37" height="10.8" fill="#000"/>
<g transform="translate(665.00,323.20) scale(0.845,1)"><text x="0" y="0" font-size="10.75" fill="#fff" stroke="#fff" stroke-width="0.1" letter-spacing="0.36">18.673</text></g>
<rect x="660" y="250.3" width="37" height="10.8" fill="#000"/>
<g transform="translate(665.00,259.50) scale(0.845,1)"><text x="0" y="0" font-size="10.75" fill="#fff" stroke="#fff" stroke-width="0.1" letter-spacing="0.36">20.636</text></g>
<rect x="660" y="291.9" width="37" height="10.8" fill="#000"/>
<g transform="translate(665.00,301.10) scale(0.845,1)"><text x="0" y="0" font-size="10.75" fill="#fff" stroke="#fff" stroke-width="0.1" letter-spacing="0.36">19.300</text></g>
<rect x="660" y="319.6" width="37" height="10.8" fill="#000"/>
<g transform="translate(665.00,328.80) scale(0.845,1)"><text x="0" y="0" font-size="10.75" fill="#fff" stroke="#fff" stroke-width="0.1" letter-spacing="0.36">18.397</text></g>
<rect x="660" y="368.7" width="37" height="10.8" fill="#000"/>
<g transform="translate(665.00,377.90) scale(0.845,1)"><text x="0" y="0" font-size="10.75" fill="#fff" stroke="#fff" stroke-width="0.1" letter-spacing="0.36">16.816</text></g>
<rect x="2" y="385" width="658" height="1" fill="#000"/>
<rect x="2" y="479" width="658" height="1" fill="#000"/>
<rect x="2" y="385" width="1" height="95" fill="#000"/>
<rect x="659" y="385" width="1" height="95" fill="#000"/>
<g transform="translate(7.00,398.30) scale(0.845,1)"><text x="0" y="0" font-size="10.75" fill="#000" stroke="#000" stroke-width="0.1" letter-spacing="0.4">AO -1.7165</text></g>
<rect x="2" y="426.8" width="3" height="29.2" fill="#008000"/>
<rect x="6" y="426.8" width="3" height="28.1" fill="#008000"/>
<rect x="10" y="426.8" width="3" height="28.1" fill="#FF0000"/>
<rect x="14" y="426.8" width="3" height="30.3" fill="#FF0000"/>
<rect x="18" y="426.8" width="3" height="28.1" fill="#008000"/>
<rect x="22" y="426.8" width="3" height="26.0" fill="#008000"/>
<rect x="26" y="426.8" width="3" height="24.9" fill="#008000"/>
<rect x="30" y="426.8" width="3" height="23.3" fill="#008000"/>
<rect x="34" y="426.8" width="3" height="19.6" fill="#008000"/>
<rect x="38" y="426.8" width="3" height="16.3" fill="#008000"/>
<rect x="42" y="426.8" width="3" height="14.1" fill="#008000"/>
<rect x="46" y="426.8" width="3" height="10.4" fill="#008000"/>
<rect x="50" y="426.8" width="3" height="7.4" fill="#008000"/>
<rect x="54" y="426.8" width="3" height="5.2" fill="#008000"/>
<rect x="58" y="426.8" width="3" height="3.2" fill="#008000"/>
<rect x="62" y="426.8" width="3" height="1.9" fill="#008000"/>
<rect x="66" y="426.8" width="3" height="1.9" fill="#FF0000"/>
<rect x="70" y="424.7" width="3" height="2.1" fill="#008000"/>
<rect x="74" y="426.8" width="3" height="1.2" fill="#FF0000"/>
<rect x="78" y="426.8" width="3" height="2.5" fill="#FF0000"/>
<rect x="82" y="426.8" width="3" height="4.2" fill="#FF0000"/>
<rect x="86" y="426.8" width="3" height="4.2" fill="#FF0000"/>
<rect x="90" y="426.8" width="3" height="4.2" fill="#008000"/>
<rect x="94" y="426.8" width="3" height="1.9" fill="#008000"/>
<rect x="98" y="422.7" width="3" height="4.0" fill="#008000"/>
<rect x="102" y="420.9" width="3" height="5.9" fill="#008000"/>
<rect x="106" y="418.6" width="3" height="8.2" fill="#008000"/>
<rect x="110" y="415.1" width="3" height="11.7" fill="#008000"/>
<rect x="114" y="411.7" width="3" height="15.1" fill="#008000"/>
<rect x="118" y="407.4" width="3" height="19.4" fill="#008000"/>
<rect x="122" y="405.6" width="3" height="21.2" fill="#008000"/>
<rect x="126" y="403.6" width="3" height="23.2" fill="#008000"/>
<rect x="130" y="404.6" width="3" height="22.2" fill="#FF0000"/>
<rect x="134" y="410.9" width="3" height="15.9" fill="#FF0000"/>
<rect x="138" y="417.9" width="3" height="8.9" fill="#FF0000"/>
<rect x="142" y="423.7" width="3" height="3.1" fill="#FF0000"/>
<rect x="146" y="426.8" width="3" height="2.3" fill="#FF0000"/>
<rect x="150" y="426.8" width="3" height="7.7" fill="#FF0000"/>
<rect x="154" y="426.8" width="3" height="10.3" fill="#FF0000"/>
<rect x="158" y="426.8" width="3" height="10.3" fill="#FF0000"/>
<rect x="162" y="426.8" width="3" height="9.0" fill="#008000"/>
<rect x="166" y="426.8" width="3" height="8.0" fill="#008000"/>
<rect x="170" y="426.8" width="3" height="6.5" fill="#008000"/>
<rect x="174" y="426.8" width="3" height="2.3" fill="#008000"/>
<rect x="178" y="425.6" width="3" height="1.2" fill="#008000"/>
<rect x="182" y="422.4" width="3" height="4.4" fill="#008000"/>
<rect x="186" y="419.9" width="3" height="6.9" fill="#008000"/>
<rect x="190" y="419.9" width="3" height="6.9" fill="#008000"/>
<rect x="194" y="418.9" width="3" height="7.9" fill="#008000"/>
<rect x="198" y="417.0" width="3" height="9.7" fill="#008000"/>
<rect x="202" y="416.6" width="3" height="10.2" fill="#FF0000"/>
<rect x="206" y="414.8" width="3" height="12.0" fill="#008000"/>
<rect x="210" y="412.8" width="3" height="14.0" fill="#008000"/>
<rect x="214" y="411.0" width="3" height="15.8" fill="#008000"/>
<rect x="218" y="409.9" width="3" height="16.8" fill="#008000"/>
<rect x="222" y="409.3" width="3" height="17.5" fill="#008000"/>
<rect x="226" y="408.1" width="3" height="18.7" fill="#008000"/>
<rect x="230" y="404.8" width="3" height="22.0" fill="#008000"/>
<rect x="234" y="404.8" width="3" height="22.0" fill="#008000"/>
<rect x="238" y="402.0" width="3" height="24.8" fill="#008000"/>
<rect x="242" y="398.1" width="3" height="28.7" fill="#008000"/>
<rect x="246" y="395.3" width="3" height="31.5" fill="#008000"/>
<rect x="250" y="392.0" width="3" height="34.8" fill="#008000"/>
<rect x="254" y="390.9" width="3" height="35.9" fill="#008000"/>
<rect x="258" y="390.9" width="3" height="35.9" fill="#008000"/>
<rect x="262" y="392.8" width="3" height="34.0" fill="#FF0000"/>
<rect x="266" y="398.1" width="3" height="28.7" fill="#FF0000"/>
<rect x="270" y="403.9" width="3" height="22.9" fill="#FF0000"/>
<rect x="274" y="408.1" width="3" height="18.7" fill="#FF0000"/>
<rect x="278" y="411.1" width="3" height="15.6" fill="#FF0000"/>
<rect x="282" y="413.9" width="3" height="12.9" fill="#FF0000"/>
<rect x="286" y="415.0" width="3" height="11.8" fill="#FF0000"/>
<rect x="290" y="416.0" width="3" height="10.8" fill="#FF0000"/>
<rect x="294" y="416.9" width="3" height="9.8" fill="#FF0000"/>
<rect x="298" y="417.0" width="3" height="9.7" fill="#FF0000"/>
<rect x="302" y="417.9" width="3" height="8.9" fill="#FF0000"/>
<rect x="306" y="419.9" width="3" height="6.9" fill="#FF0000"/>
<rect x="310" y="421.2" width="3" height="5.6" fill="#FF0000"/>
<rect x="314" y="425.0" width="3" height="1.7" fill="#FF0000"/>
<rect x="318" y="426.8" width="3" height="2.3" fill="#FF0000"/>
<rect x="322" y="426.8" width="3" height="5.1" fill="#FF0000"/>
<rect x="326" y="426.8" width="3" height="6.5" fill="#FF0000"/>
<rect x="330" y="426.8" width="3" height="9.0" fill="#FF0000"/>
<rect x="334" y="426.8" width="3" height="10.3" fill="#FF0000"/>
<rect x="338" y="426.8" width="3" height="10.3" fill="#FF0000"/>
<rect x="342" y="426.8" width="3" height="9.0" fill="#008000"/>
<rect x="346" y="426.8" width="3" height="7.0" fill="#008000"/>
<rect x="350" y="426.8" width="3" height="3.2" fill="#008000"/>
<rect x="354" y="425.0" width="3" height="1.7" fill="#008000"/>
<rect x="358" y="421.2" width="3" height="5.6" fill="#008000"/>
<rect x="362" y="418.9" width="3" height="7.9" fill="#008000"/>
<rect x="366" y="419.9" width="3" height="6.9" fill="#FF0000"/>
<rect x="370" y="423.2" width="3" height="3.6" fill="#FF0000"/>
<rect x="374" y="426.8" width="3" height="1.9" fill="#FF0000"/>
<rect x="378" y="426.8" width="3" height="8.5" fill="#FF0000"/>
<rect x="382" y="426.8" width="3" height="13.9" fill="#FF0000"/>
<rect x="386" y="426.8" width="3" height="19.6" fill="#FF0000"/>
<rect x="390" y="426.8" width="3" height="24.4" fill="#FF0000"/>
<rect x="394" y="426.8" width="3" height="27.2" fill="#FF0000"/>
<rect x="398" y="426.8" width="3" height="30.5" fill="#FF0000"/>
<rect x="402" y="426.8" width="3" height="33.6" fill="#FF0000"/>
<rect x="406" y="426.8" width="3" height="35.5" fill="#FF0000"/>
<rect x="410" y="426.8" width="3" height="35.5" fill="#008000"/>
<rect x="414" y="426.8" width="3" height="35.9" fill="#FF0000"/>
<rect x="418" y="426.8" width="3" height="36.3" fill="#FF0000"/>
<rect x="422" y="426.8" width="3" height="38.2" fill="#FF0000"/>
<rect x="426" y="426.8" width="3" height="40.7" fill="#FF0000"/>
<rect x="430" y="426.8" width="3" height="44.5" fill="#FF0000"/>
<rect x="434" y="426.8" width="3" height="48.3" fill="#FF0000"/>
<rect x="438" y="426.8" width="3" height="48.3" fill="#FF0000"/>
<rect x="442" y="426.8" width="3" height="46.4" fill="#008000"/>
<rect x="446" y="426.8" width="3" height="45.5" fill="#008000"/>
<rect x="450" y="426.8" width="3" height="41.7" fill="#008000"/>
<rect x="454" y="426.8" width="3" height="35.5" fill="#008000"/>
<rect x="458" y="426.8" width="3" height="31.7" fill="#008000"/>
<rect x="462" y="426.8" width="3" height="28.8" fill="#008000"/>
<rect x="466" y="426.8" width="3" height="26.5" fill="#008000"/>
<rect x="470" y="426.8" width="3" height="24.6" fill="#008000"/>
<rect x="474" y="426.8" width="3" height="22.1" fill="#008000"/>
<rect x="478" y="426.8" width="3" height="19.6" fill="#008000"/>
<rect x="482" y="426.8" width="3" height="17.7" fill="#008000"/>
<rect x="486" y="426.8" width="3" height="16.3" fill="#008000"/>
<rect x="490" y="426.8" width="3" height="14.4" fill="#008000"/>
<rect x="494" y="426.8" width="3" height="12.5" fill="#008000"/>
<rect x="498" y="426.8" width="3" height="9.6" fill="#008000"/>
<rect x="502" y="426.8" width="3" height="6.8" fill="#008000"/>
<rect x="506" y="426.8" width="3" height="3.0" fill="#008000"/>
<rect x="510" y="426.8" width="3" height="3.0" fill="#008000"/>
<rect x="514" y="426.8" width="3" height="4.3" fill="#FF0000"/>
<rect x="518" y="426.8" width="3" height="5.8" fill="#FF0000"/>
<rect x="522" y="426.8" width="3" height="6.8" fill="#FF0000"/>
<rect x="526" y="426.8" width="3" height="9.3" fill="#FF0000"/>
<rect x="530" y="426.8" width="3" height="9.3" fill="#008000"/>
<rect x="534" y="426.8" width="3" height="8.1" fill="#008000"/>
<rect x="538" y="426.8" width="3" height="7.3" fill="#008000"/>
<rect x="542" y="426.8" width="3" height="4.3" fill="#008000"/>
<rect x="546" y="426.8" width="3" height="3.0" fill="#008000"/>
<rect x="550" y="426.8" width="3" height="4.3" fill="#FF0000"/>
<rect x="554" y="426.8" width="3" height="7.8" fill="#FF0000"/>
<rect x="558" y="426.8" width="3" height="8.6" fill="#FF0000"/>
<rect x="562" y="426.8" width="3" height="11.2" fill="#FF0000"/>
<rect x="566" y="426.8" width="3" height="12.5" fill="#FF0000"/>
<rect x="570" y="426.8" width="3" height="15.4" fill="#FF0000"/>
<rect x="574" y="426.8" width="3" height="18.8" fill="#FF0000"/>
<rect x="578" y="426.8" width="3" height="22.6" fill="#FF0000"/>
<rect x="582" y="426.8" width="3" height="27.8" fill="#FF0000"/>
<rect x="586" y="426.8" width="3" height="32.6" fill="#FF0000"/>
<rect x="590" y="426.8" width="3" height="35.4" fill="#FF0000"/>
<rect x="594" y="426.8" width="3" height="36.1" fill="#FF0000"/>
<rect x="598" y="426.8" width="3" height="36.4" fill="#FF0000"/>
<rect x="602" y="426.8" width="3" height="37.7" fill="#FF0000"/>
<rect x="606" y="426.8" width="3" height="37.0" fill="#008000"/>
<rect x="610" y="426.8" width="3" height="37.3" fill="#FF0000"/>
<rect x="614" y="426.8" width="3" height="38.0" fill="#FF0000"/>
<rect x="618" y="426.8" width="3" height="37.7" fill="#008000"/>
<rect x="622" y="426.8" width="3" height="36.6" fill="#008000"/>
<rect x="626" y="426.8" width="3" height="35.8" fill="#008000"/>
<rect x="630" y="426.8" width="3" height="34.1" fill="#008000"/>
<rect x="2" y="385" width="1" height="95" fill="#000"/>
<ellipse cx="633.4" cy="443.1" rx="9.2" ry="22.2" fill="rgba(251,212,10,0.45)"/>
<rect x="660" y="427" width="1.5" height="1" fill="#000"/>
<g transform="translate(663.00,395.80) scale(0.845,1)"><text x="0" y="0" font-size="10.75" fill="#000" stroke="#000" stroke-width="0.1" letter-spacing="0.36">2.1098</text></g>
<g transform="translate(663.00,430.80) scale(0.845,1)"><text x="0" y="0" font-size="10.75" fill="#000" stroke="#000" stroke-width="0.1" letter-spacing="0.36">0.00</text></g>
<g transform="translate(663.00,474.80) scale(0.845,1)"><text x="0" y="0" font-size="10.75" fill="#000" stroke="#000" stroke-width="0.1" letter-spacing="0.36">-2.6691</text></g>
<rect x="3" y="480" width="1" height="3" fill="#000"/>
<g transform="translate(1.80,492.50) scale(0.845,1)"><text x="0" y="0" font-size="10.75" fill="#000" stroke="#000" stroke-width="0.1" letter-spacing="0">10 Dec 2021</text></g>
<rect x="67" y="480" width="1" height="3" fill="#000"/>
<g transform="translate(65.80,492.50) scale(0.845,1)"><text x="0" y="0" font-size="10.75" fill="#000" stroke="#000" stroke-width="0.1" letter-spacing="0">4 Jan 2022</text></g>
<rect x="131" y="480" width="1" height="3" fill="#000"/>
<g transform="translate(129.80,492.50) scale(0.845,1)"><text x="0" y="0" font-size="10.75" fill="#000" stroke="#000" stroke-width="0.1" letter-spacing="0">26 Jan 2022</text></g>
<rect x="195" y="480" width="1" height="3" fill="#000"/>
<g transform="translate(193.80,492.50) scale(0.845,1)"><text x="0" y="0" font-size="10.75" fill="#000" stroke="#000" stroke-width="0.1" letter-spacing="0">17 Feb 2022</text></g>
<rect x="259" y="480" width="1" height="3" fill="#000"/>
<g transform="translate(257.80,492.50) scale(0.845,1)"><text x="0" y="0" font-size="10.75" fill="#000" stroke="#000" stroke-width="0.1" letter-spacing="0">11 Mar 2022</text></g>
<rect x="323" y="480" width="1" height="3" fill="#000"/>
<g transform="translate(321.80,492.50) scale(0.845,1)"><text x="0" y="0" font-size="10.75" fill="#000" stroke="#000" stroke-width="0.1" letter-spacing="0">4 Apr 2022</text></g>
<rect x="387" y="480" width="1" height="3" fill="#000"/>
<g transform="translate(385.80,492.50) scale(0.845,1)"><text x="0" y="0" font-size="10.75" fill="#000" stroke="#000" stroke-width="0.1" letter-spacing="0">27 Apr 2022</text></g>
<rect x="451" y="480" width="1" height="3" fill="#000"/>
<g transform="translate(449.80,492.50) scale(0.845,1)"><text x="0" y="0" font-size="10.75" fill="#000" stroke="#000" stroke-width="0.1" letter-spacing="0">19 May 2022</text></g>
<rect x="515" y="480" width="1" height="3" fill="#000"/>
<g transform="translate(513.80,492.50) scale(0.845,1)"><text x="0" y="0" font-size="10.75" fill="#000" stroke="#000" stroke-width="0.1" letter-spacing="0">10 Jun 2022</text></g>
<rect x="579" y="480" width="1" height="3" fill="#000"/>
<g transform="translate(577.80,492.50) scale(0.845,1)"><text x="0" y="0" font-size="10.75" fill="#000" stroke="#000" stroke-width="0.1" letter-spacing="0">4 Jul 2022</text></g>
</svg></body></html>
